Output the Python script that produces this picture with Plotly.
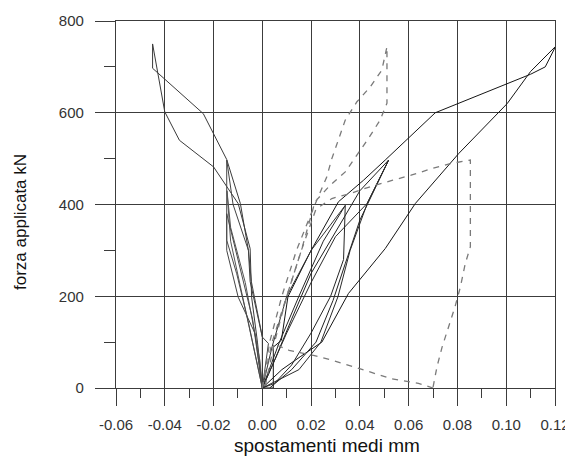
import plotly.graph_objects as go

# ---------------- data ----------------
# solid curves, right side (positive displacements)
r1_x = [0.0, 0.0045, 0.0045, 0.0078, 0.0105, 0.020, 0.0312, 0.0415, 0.0504, 0.0709, 0.110, 0.116, 0.1203,
        0.110, 0.1004, 0.0805, 0.0627, 0.0504, 0.0353, 0.0278, 0.0244, 0.0155, 0.008, 0.0]
r1_y = [0, 0, 89, 104, 199, 300, 406, 453, 497, 600, 684, 700, 745,
        690, 620, 511, 402, 304, 206, 133, 100, 68, 40, 0]

r2_x = [0.0, 0.005, 0.012, 0.020, 0.030, 0.040, 0.0518, 0.045, 0.040, 0.034, 0.029, 0.022, 0.012, 0.003]
r2_y = [0, 60, 150, 250, 340, 430, 497, 420, 366, 271, 191, 100, 40, 0]

r3_x = [0.0, 0.010, 0.020, 0.030, 0.0429, 0.0518, 0.043, 0.036, 0.031, 0.024, 0.015, 0.0]
r3_y = [0, 120, 230, 330, 402, 497, 402, 300, 199, 100, 40, 0]

r4_x = [0.0, 0.007, 0.015, 0.025, 0.034, 0.0333, 0.028, 0.020, 0.012, 0.005, 0.0]
r4_y = [0, 100, 200, 320, 398, 280, 200, 120, 50, 10, 0]

r5_x = [0.0, 0.004, 0.010, 0.020, 0.034]
r5_y = [0, 90, 200, 300, 398]

# solid curves, left side (negative displacements)
l1_x = [0.0, -0.002, -0.0044, -0.005, -0.0099, -0.020, -0.034, -0.040, -0.045, -0.045, -0.0242, -0.0146,
        -0.009, -0.0057, -0.005, 0.0, 0.0]
l1_y = [0, 100, 198, 304, 402, 482, 540, 602, 750, 697, 598, 498, 402, 300, 232, 111, 0]

l2_x = [0.0, -0.003, -0.0099, -0.0146, -0.0146, -0.012, -0.0057, -0.0045, 0.0, 0.0025, 0.0]
l2_y = [0, 119, 198, 300, 497, 400, 300, 232, 111, 97, 0]

l3_x = [0.0, -0.004, -0.008, -0.013, -0.0145, -0.013, -0.007, -0.001, 0.0]
l3_y = [0, 100, 200, 320, 430, 350, 230, 60, 0]

l4_x = [0.0, -0.006, -0.0105, -0.0146, -0.0146, -0.011, -0.004, 0.0]
l4_y = [0, 150, 249, 322, 380, 300, 150, 0]

# dashed curves
da_x = [0.0, 0.003, 0.008, 0.014, 0.020, 0.0264, 0.0285, 0.0312, 0.034, 0.0388, 0.0442, 0.049, 0.0511,
        0.0511, 0.0483, 0.0435, 0.0388, 0.034, 0.0278, 0.0216, 0.016, 0.010, 0.005, 0.001]
da_y = [0, 100, 200, 300, 380, 460, 500, 540, 584, 624, 656, 693, 744,
        621, 584, 544, 507, 471, 442, 406, 300, 200, 100, 0]

db_x = [0.0, 0.004, 0.010, 0.016, 0.022, 0.0285, 0.036, 0.045, 0.0535, 0.061, 0.070, 0.077, 0.0853,
        0.0853, 0.0832, 0.0812, 0.079, 0.0764, 0.0737, 0.0716, 0.070]
db_y = [0, 100, 200, 300, 390, 413, 424, 440, 453, 464, 479, 489, 497,
        308, 271, 220, 177, 133, 89, 46, 2]

dc_x = [0.070, 0.064, 0.053, 0.0445, 0.037, 0.029, 0.021, 0.011, 0.0044]
dc_y = [0, 10, 20, 35, 47, 60, 71, 82, 97]

# axis ticks
x_tick_vals = [-0.06, -0.04, -0.02, 0.0, 0.02, 0.04, 0.06, 0.08, 0.10, 0.12]
x_tick_labels = ["-0.06", "-0.04", "-0.02", "0.00", "0.02", "0.04", "0.06", "0.08", "0.10", "0.12"]
x_minor_vals = [-0.05, -0.03, -0.01, 0.01, 0.03, 0.05, 0.07, 0.09, 0.11]
y_tick_vals = [0, 200, 400, 600, 800]
y_tick_labels = ["0", "200", "400", "600", "800"]
y_minor_vals = [100, 300, 500, 700]

# ---------------- figure ----------------
fig = go.Figure()

solid = [(r1_x, r1_y, "#151515"), (r2_x, r2_y, "#202020"), (r3_x, r3_y, "#2a2a2a"),
         (r4_x, r4_y, "#252525"), (r5_x, r5_y, "#303030"),
         (l1_x, l1_y, "#3a3a3a"), (l2_x, l2_y, "#444444"), (l3_x, l3_y, "#555555"),
         (l4_x, l4_y, "#4a4a4a")]
for xs, ys, c in solid:
    fig.add_trace(go.Scatter(x=xs, y=ys, mode="lines", line=dict(color=c, width=1),
                             showlegend=False, hoverinfo="skip"))

for xs, ys in [(da_x, da_y), (db_x, db_y), (dc_x, dc_y)]:
    fig.add_trace(go.Scatter(x=xs, y=ys, mode="lines",
                             line=dict(color="#7a7a7a", width=1.3, dash="6px,6px"),
                             showlegend=False, hoverinfo="skip"))

grid_c = "#3c3c3c"
tick_font = dict(family="Liberation Sans, Arial, sans-serif", size=15, color="#333333")

# the page body has an 8px margin, so the figure is 8px smaller and margins shifted
fig.update_layout(
    template="none",
    width=565, height=451,
    margin=dict(l=108, r=18, t=13, b=71, autoexpand=False),
    paper_bgcolor="white", plot_bgcolor="white",
    xaxis=dict(range=[-0.06, 0.12], tickmode="array", tickvals=x_tick_vals, ticktext=x_tick_labels,
               automargin=False,
               showgrid=True, gridcolor=grid_c, gridwidth=1.3, zeroline=False,
               showline=True, linecolor=grid_c, linewidth=1.3, mirror=True,
               ticks="outside", ticklen=17, tickwidth=1.3, tickcolor=grid_c,
               ticklabelstandoff=6, tickfont=tick_font,
               minor=dict(tickmode="array", tickvals=x_minor_vals, ticks="outside", ticklen=9,
                          tickwidth=1.3, tickcolor=grid_c, showgrid=False)),
    yaxis=dict(range=[0, 800], tickmode="array", tickvals=y_tick_vals, ticktext=y_tick_labels,
               automargin=False,
               showgrid=True, gridcolor=grid_c, gridwidth=1.3, zeroline=False,
               showline=True, linecolor=grid_c, linewidth=1.3, mirror=True,
               ticks="outside", ticklen=20, tickwidth=1.3, tickcolor=grid_c,
               ticklabelstandoff=8, tickfont=tick_font,
               minor=dict(tickmode="array", tickvals=y_minor_vals, ticks="outside", ticklen=11,
                          tickwidth=1.3, tickcolor=grid_c, showgrid=False)),
    annotations=[
        dict(text="spostamenti medi mm", xref="paper", yref="paper",
             x=(327 - 116) / 439, y=-(445 - 388) / 367, xanchor="center", yanchor="middle",
             showarrow=False, font=dict(family="Liberation Sans, Arial, sans-serif", size=19, color="#111111")),
        dict(text="forza applicata kN", xref="paper", yref="paper",
             x=-(116 - 20) / 439, y=(388 - 222) / 367, xanchor="center", yanchor="middle",
             textangle=-90, showarrow=False,
             font=dict(family="Liberation Sans, Arial, sans-serif", size=17, color="#111111")),
    ],
)

fig.write_html("out.html")
